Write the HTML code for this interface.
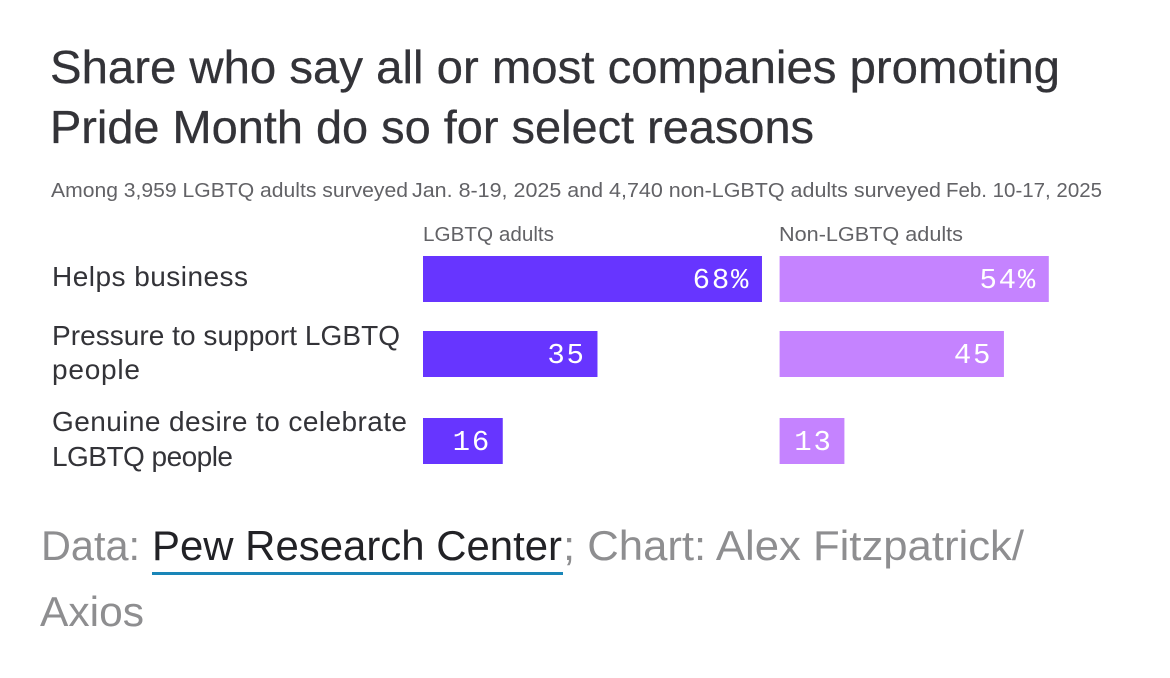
<!DOCTYPE html>
<html lang="en">
<head>
<meta charset="utf-8">
<title>Share who say all or most companies promoting Pride Month do so for select reasons</title>
<style>
html,body{margin:0;padding:0;background:#fff;width:1170px;height:678px;overflow:hidden}
svg{display:block}
text{font-family:"Liberation Sans",sans-serif}
.mono{font-family:"Liberation Mono",monospace;letter-spacing:1.8px}
</style>
</head>
<body>
<svg id="chart" width="1170" height="678" viewBox="0 0 1170 678" xmlns="http://www.w3.org/2000/svg">
  <rect width="1170" height="678" fill="#fff"/>
  <text x="50" y="83" font-size="46" fill="#333338" stroke="#333338" stroke-width="0.3" textLength="1010" lengthAdjust="spacingAndGlyphs">Share who say all or most companies promoting</text>
  <text x="50" y="143" font-size="46" fill="#333338" stroke="#333338" stroke-width="0.3" textLength="764" lengthAdjust="spacingAndGlyphs">Pride Month do so for select reasons</text>
  <text x="51" y="197" font-size="20" fill="#626266" textLength="357" lengthAdjust="spacingAndGlyphs">Among 3,959 LGBTQ adults surveyed</text>
  <text x="412" y="197" font-size="20" fill="#626266" textLength="529" lengthAdjust="spacingAndGlyphs">Jan. 8-19, 2025 and 4,740 non-LGBTQ adults surveyed</text>
  <text x="946" y="197" font-size="20" fill="#626266" textLength="156" lengthAdjust="spacingAndGlyphs">Feb. 10-17, 2025</text>
  <g id="columns"></g>
  <g id="labels"></g>
  <g id="bars"></g>
  <text x="41" y="560" font-size="42" fill="#8e8e90" textLength="99" lengthAdjust="spacingAndGlyphs">Data:</text>
  <text x="152" y="560" font-size="42" fill="#222226" textLength="410" lengthAdjust="spacingAndGlyphs">Pew Research Center</text>
  <rect x="152" y="572" width="411" height="3" fill="#1a86b8"/>
  <text x="563" y="560" font-size="42" fill="#8e8e90" textLength="461" lengthAdjust="spacingAndGlyphs">; Chart: Alex Fitzpatrick/</text>
  <text x="40" y="626" font-size="42" fill="#8e8e90" textLength="104" lengthAdjust="spacingAndGlyphs">Axios</text>
</svg>
<script>
const categories = ["Helps business", "Pressure to support LGBTQ people", "Genuine desire to celebrate LGBTQ people"];
const seriesNames = ["LGBTQ adults", "Non-LGBTQ adults"];
const lgbtqValues = [68, 35, 16];
const nonLgbtqValues = [54, 45, 13];

const NS = "http://www.w3.org/2000/svg";
const PX_PER_POINT = 4.985;
const BAR_HEIGHT = 46;
const BAR_TOPS = [256, 331, 418];
const PANELS = [
  { x0: 423, headerX: 423, fill: "#6735ff", values: lgbtqValues, headerWidth: 131 },
  { x0: 779.6, headerX: 779, fill: "#c583ff", values: nonLgbtqValues, headerWidth: 184 }
];
const LABEL_LINES = [
  [{ y: 286, width: 196, from: 0, to: 14 }],
  [{ y: 345, width: 348, from: 0, to: 25 }, { y: 379, width: 88, from: 26, to: 32 }],
  [{ y: 431, width: 355, from: 0, to: 27 }, { y: 466, width: 181, from: 28, to: 40 }]
];

function xScale(value) {
  return value * PX_PER_POINT;
}

function makeSvg(tag, attrs, text) {
  const el = document.createElementNS(NS, tag);
  Object.keys(attrs).forEach(function (k) { el.setAttribute(k, attrs[k]); });
  if (text !== undefined) el.textContent = text;
  return el;
}

const columnsGroup = document.getElementById("columns");
const labelsGroup = document.getElementById("labels");
const barsGroup = document.getElementById("bars");

PANELS.forEach(function (panel, p) {
  const header = makeSvg("text", {
    x: panel.headerX, y: 241, "font-size": 20.5, fill: "#626266",
    textLength: panel.headerWidth, lengthAdjust: "spacingAndGlyphs"
  }, seriesNames[p]);
  
  
  columnsGroup.appendChild(header);

  panel.values.forEach(function (value, i) {
    const w = xScale(value);
    const bar = makeSvg("rect", {
      x: panel.x0, y: BAR_TOPS[i], width: w, height: BAR_HEIGHT, fill: panel.fill
    });
    
    
    barsGroup.appendChild(bar);

    const label = makeSvg("text", {
      x: panel.x0 + w - 11.7, y: BAR_TOPS[i] + 32, "font-size": 29, fill: "#ffffff",
      "text-anchor": "end", "class": "mono"
    }, value + (i === 0 ? "%" : ""));
    
    
    barsGroup.appendChild(label);
  });
});

categories.forEach(function (cat, i) {
  LABEL_LINES[i].forEach(function (line) {
    const t = makeSvg("text", {
      x: 52, y: line.y, "font-size": 28, fill: "#333338",
      textLength: line.width, lengthAdjust: "spacing"
    }, cat.slice(line.from, line.to));
    
    
    labelsGroup.appendChild(t);
  });
});
</script>
</body>
</html>
